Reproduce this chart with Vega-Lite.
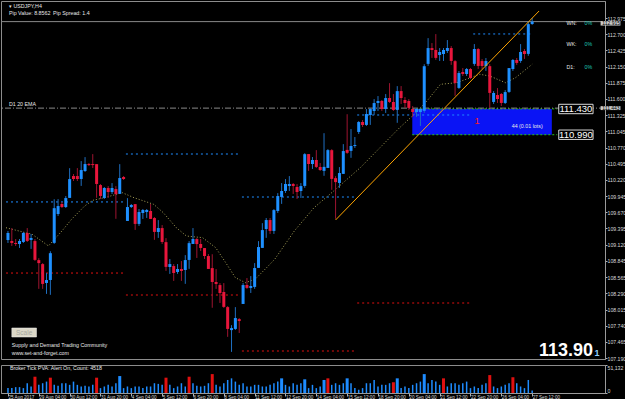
{
  "$schema": "https://vega.github.io/schema/vega-lite/v6.json",
  "background": "black",
  "padding": 0,
  "spacing": 2,
  "config": {
    "view": {"stroke": "#8c8c8c", "strokeWidth": 1},
    "font": "Liberation Sans",
    "axis": {"labelColor": "#d8d8d8", "labelFontSize": 5.2, "labelFont": "Liberation Sans", "tickColor": "#b0b0b0", "domainColor": "#9a9a9a", "grid": false, "tickSize": 2, "labelPadding": 0, "labelOverlap": false, "title": null},
    "text": {"font": "Liberation Sans"}
  },
  "datasets": {
    "candles": [
      {"i":0,"o":109.199,"h":109.351,"l":109.148,"c":109.317,"v":8925,"vt":"normal"},
      {"i":1,"o":109.182,"h":109.401,"l":109.098,"c":109.148,"v":8925,"vt":"normal"},
      {"i":2,"o":109.147,"h":109.215,"l":109.097,"c":109.130,"v":10710,"vt":"normal"},
      {"i":3,"o":109.130,"h":109.215,"l":109.063,"c":109.181,"v":10710,"vt":"normal"},
      {"i":4,"o":109.165,"h":109.334,"l":109.148,"c":109.317,"v":8925,"vt":"normal"},
      {"i":5,"o":109.317,"h":109.401,"l":109.165,"c":109.182,"v":17850,"vt":"normal"},
      {"i":6,"o":109.199,"h":109.300,"l":109.047,"c":109.233,"v":11900,"vt":"normal"},
      {"i":7,"o":109.180,"h":109.214,"l":108.843,"c":108.860,"v":29750,"vt":"climax_down"},
      {"i":8,"o":108.856,"h":108.889,"l":108.367,"c":108.805,"v":14875,"vt":"normal"},
      {"i":9,"o":108.788,"h":108.805,"l":108.367,"c":108.451,"v":17850,"vt":"normal"},
      {"i":10,"o":108.467,"h":108.635,"l":108.281,"c":108.517,"v":20825,"vt":"normal"},
      {"i":11,"o":108.518,"h":109.007,"l":108.265,"c":108.974,"v":27965,"vt":"rising"},
      {"i":12,"o":109.150,"h":109.892,"l":109.133,"c":109.740,"v":14875,"vt":"normal"},
      {"i":13,"o":109.641,"h":109.894,"l":109.608,"c":109.776,"v":13090,"vt":"normal"},
      {"i":14,"o":109.811,"h":109.845,"l":109.743,"c":109.760,"v":17850,"vt":"normal"},
      {"i":15,"o":109.760,"h":109.946,"l":109.743,"c":109.912,"v":17850,"vt":"normal"},
      {"i":16,"o":109.915,"h":110.421,"l":109.915,"c":110.235,"v":14875,"vt":"normal"},
      {"i":17,"o":110.287,"h":110.321,"l":110.203,"c":110.236,"v":20825,"vt":"normal"},
      {"i":18,"o":110.287,"h":110.422,"l":110.203,"c":110.236,"v":14875,"vt":"normal"},
      {"i":19,"o":110.237,"h":110.541,"l":110.119,"c":110.389,"v":11900,"vt":"normal"},
      {"i":20,"o":110.373,"h":110.609,"l":110.356,"c":110.491,"v":13090,"vt":"normal"},
      {"i":21,"o":110.491,"h":110.508,"l":110.458,"c":110.474,"v":11900,"vt":"normal"},
      {"i":22,"o":110.491,"h":110.660,"l":110.424,"c":110.474,"v":14875,"vt":"normal"},
      {"i":23,"o":110.489,"h":110.489,"l":109.916,"c":110.152,"v":27965,"vt":"climax_down"},
      {"i":24,"o":110.133,"h":110.150,"l":109.897,"c":109.948,"v":8925,"vt":"normal"},
      {"i":25,"o":109.914,"h":110.100,"l":109.897,"c":110.083,"v":11900,"vt":"normal"},
      {"i":26,"o":110.083,"h":110.116,"l":109.914,"c":110.015,"v":14875,"vt":"normal"},
      {"i":27,"o":110.015,"h":110.167,"l":109.981,"c":110.083,"v":11900,"vt":"normal"},
      {"i":28,"o":110.065,"h":110.115,"l":109.559,"c":109.980,"v":17850,"vt":"normal"},
      {"i":29,"o":109.983,"h":110.489,"l":109.983,"c":110.253,"v":30940,"vt":"climax_up"},
      {"i":30,"o":110.270,"h":110.287,"l":110.220,"c":110.236,"v":8925,"vt":"normal"},
      {"i":31,"o":109.523,"h":109.911,"l":109.523,"c":109.759,"v":11900,"vt":"normal"},
      {"i":32,"o":109.760,"h":109.811,"l":109.743,"c":109.794,"v":8925,"vt":"normal"},
      {"i":33,"o":109.809,"h":109.809,"l":109.370,"c":109.472,"v":11900,"vt":"normal"},
      {"i":34,"o":109.472,"h":109.725,"l":109.438,"c":109.674,"v":11900,"vt":"normal"},
      {"i":35,"o":109.658,"h":109.726,"l":109.557,"c":109.709,"v":8925,"vt":"normal"},
      {"i":36,"o":109.675,"h":109.726,"l":109.574,"c":109.709,"v":11900,"vt":"normal"},
      {"i":37,"o":109.692,"h":109.810,"l":109.557,"c":109.557,"v":11900,"vt":"normal"},
      {"i":38,"o":109.572,"h":109.589,"l":109.201,"c":109.336,"v":17850,"vt":"normal"},
      {"i":39,"o":109.335,"h":109.537,"l":109.234,"c":109.402,"v":16660,"vt":"normal"},
      {"i":40,"o":109.401,"h":109.452,"l":109.131,"c":109.165,"v":14875,"vt":"normal"},
      {"i":41,"o":109.162,"h":109.230,"l":108.673,"c":108.741,"v":27965,"vt":"climax_down"},
      {"i":42,"o":108.739,"h":108.874,"l":108.621,"c":108.789,"v":14875,"vt":"normal"},
      {"i":43,"o":108.755,"h":108.789,"l":108.502,"c":108.637,"v":8925,"vt":"normal"},
      {"i":44,"o":108.654,"h":108.789,"l":108.621,"c":108.705,"v":11900,"vt":"normal"},
      {"i":45,"o":108.705,"h":108.840,"l":108.502,"c":108.671,"v":17850,"vt":"normal"},
      {"i":46,"o":108.688,"h":108.941,"l":108.452,"c":108.857,"v":11900,"vt":"normal"},
      {"i":47,"o":108.859,"h":109.179,"l":108.707,"c":109.145,"v":29750,"vt":"rising"},
      {"i":48,"o":109.131,"h":109.401,"l":109.131,"c":109.216,"v":17850,"vt":"normal"},
      {"i":49,"o":109.214,"h":109.231,"l":108.893,"c":109.129,"v":13090,"vt":"normal"},
      {"i":50,"o":109.130,"h":109.215,"l":109.012,"c":109.063,"v":11900,"vt":"normal"},
      {"i":51,"o":109.061,"h":109.061,"l":108.876,"c":108.926,"v":13090,"vt":"normal"},
      {"i":52,"o":108.925,"h":108.959,"l":108.706,"c":108.706,"v":17850,"vt":"normal"},
      {"i":53,"o":108.720,"h":108.956,"l":108.045,"c":108.484,"v":34510,"vt":"climax_down"},
      {"i":54,"o":108.484,"h":108.703,"l":108.366,"c":108.450,"v":14875,"vt":"normal"},
      {"i":55,"o":108.431,"h":108.465,"l":108.127,"c":108.296,"v":11900,"vt":"normal"},
      {"i":56,"o":108.313,"h":108.465,"l":108.043,"c":108.060,"v":17850,"vt":"normal"},
      {"i":57,"o":108.056,"h":108.073,"l":107.550,"c":107.685,"v":23800,"vt":"normal"},
      {"i":58,"o":107.665,"h":107.749,"l":107.294,"c":107.699,"v":26775,"vt":"normal"},
      {"i":59,"o":107.685,"h":108.056,"l":107.668,"c":107.870,"v":20825,"vt":"normal"},
      {"i":60,"o":107.852,"h":107.869,"l":107.616,"c":107.819,"v":14875,"vt":"normal"},
      {"i":61,"o":108.110,"h":108.465,"l":108.110,"c":108.431,"v":17850,"vt":"normal"},
      {"i":62,"o":108.433,"h":108.551,"l":108.366,"c":108.383,"v":11900,"vt":"normal"},
      {"i":63,"o":108.382,"h":108.584,"l":108.297,"c":108.415,"v":11900,"vt":"normal"},
      {"i":64,"o":108.400,"h":108.805,"l":108.367,"c":108.721,"v":14875,"vt":"normal"},
      {"i":65,"o":108.724,"h":109.179,"l":108.724,"c":109.078,"v":14875,"vt":"normal"},
      {"i":66,"o":109.064,"h":109.485,"l":109.064,"c":109.367,"v":11900,"vt":"normal"},
      {"i":67,"o":109.386,"h":109.572,"l":109.235,"c":109.538,"v":11900,"vt":"normal"},
      {"i":68,"o":109.538,"h":109.572,"l":109.302,"c":109.353,"v":14875,"vt":"normal"},
      {"i":69,"o":109.353,"h":109.724,"l":109.302,"c":109.707,"v":17850,"vt":"normal"},
      {"i":70,"o":109.693,"h":109.996,"l":109.659,"c":109.946,"v":20825,"vt":"normal"},
      {"i":71,"o":109.931,"h":110.167,"l":109.813,"c":110.032,"v":26775,"vt":"climax_up"},
      {"i":72,"o":110.033,"h":110.235,"l":109.999,"c":110.151,"v":14875,"vt":"normal"},
      {"i":73,"o":110.117,"h":110.286,"l":110.033,"c":110.151,"v":11900,"vt":"normal"},
      {"i":74,"o":110.151,"h":110.168,"l":109.982,"c":110.117,"v":17850,"vt":"normal"},
      {"i":75,"o":110.100,"h":110.150,"l":109.897,"c":110.015,"v":14875,"vt":"normal"},
      {"i":76,"o":110.032,"h":110.167,"l":109.914,"c":110.116,"v":17850,"vt":"normal"},
      {"i":77,"o":110.119,"h":110.676,"l":110.086,"c":110.659,"v":24990,"vt":"climax_up"},
      {"i":78,"o":110.661,"h":110.661,"l":110.374,"c":110.492,"v":8925,"vt":"normal"},
      {"i":79,"o":110.492,"h":110.610,"l":110.408,"c":110.560,"v":14875,"vt":"normal"},
      {"i":80,"o":110.560,"h":110.728,"l":110.425,"c":110.442,"v":8925,"vt":"normal"},
      {"i":81,"o":110.441,"h":110.508,"l":110.373,"c":110.390,"v":11900,"vt":"normal"},
      {"i":82,"o":110.375,"h":111.016,"l":110.291,"c":110.443,"v":23800,"vt":"climax_up"},
      {"i":83,"o":110.425,"h":110.745,"l":110.425,"c":110.728,"v":26775,"vt":"rising"},
      {"i":84,"o":110.727,"h":110.744,"l":110.053,"c":110.238,"v":14875,"vt":"normal"},
      {"i":85,"o":110.251,"h":110.285,"l":109.560,"c":110.184,"v":17850,"vt":"normal"},
      {"i":86,"o":110.169,"h":110.439,"l":110.085,"c":110.338,"v":14875,"vt":"normal"},
      {"i":87,"o":110.324,"h":110.830,"l":110.324,"c":110.712,"v":17850,"vt":"normal"},
      {"i":88,"o":110.732,"h":111.339,"l":110.665,"c":110.682,"v":26775,"vt":"churn"},
      {"i":89,"o":110.715,"h":111.086,"l":110.597,"c":110.799,"v":17850,"vt":"normal"},
      {"i":90,"o":110.799,"h":110.951,"l":110.765,"c":110.816,"v":8925,"vt":"normal"},
      {"i":91,"o":111.037,"h":111.222,"l":111.003,"c":111.206,"v":5950,"vt":"normal"},
      {"i":92,"o":111.207,"h":111.240,"l":111.122,"c":111.156,"v":8925,"vt":"normal"},
      {"i":93,"o":111.157,"h":111.427,"l":111.140,"c":111.342,"v":17850,"vt":"normal"},
      {"i":94,"o":111.326,"h":111.444,"l":111.157,"c":111.427,"v":17850,"vt":"normal"},
      {"i":95,"o":111.394,"h":111.596,"l":111.327,"c":111.529,"v":23800,"vt":"normal"},
      {"i":96,"o":111.530,"h":111.648,"l":111.395,"c":111.564,"v":11900,"vt":"normal"},
      {"i":97,"o":111.564,"h":111.581,"l":111.395,"c":111.429,"v":14875,"vt":"normal"},
      {"i":98,"o":111.429,"h":111.682,"l":111.361,"c":111.614,"v":14875,"vt":"normal"},
      {"i":99,"o":111.615,"h":111.868,"l":111.531,"c":111.548,"v":17850,"vt":"normal"},
      {"i":100,"o":111.547,"h":111.682,"l":111.395,"c":111.412,"v":19635,"vt":"climax_down"},
      {"i":101,"o":111.412,"h":111.817,"l":111.193,"c":111.732,"v":26775,"vt":"climax_up"},
      {"i":102,"o":111.733,"h":111.818,"l":111.514,"c":111.615,"v":8925,"vt":"normal"},
      {"i":103,"o":111.581,"h":111.631,"l":111.446,"c":111.530,"v":11900,"vt":"normal"},
      {"i":104,"o":111.564,"h":111.597,"l":111.412,"c":111.446,"v":8925,"vt":"normal"},
      {"i":105,"o":111.428,"h":111.478,"l":111.293,"c":111.377,"v":14875,"vt":"normal"},
      {"i":106,"o":111.377,"h":111.445,"l":111.293,"c":111.428,"v":17850,"vt":"normal"},
      {"i":107,"o":111.376,"h":111.444,"l":111.140,"c":111.427,"v":20825,"vt":"normal"},
      {"i":108,"o":111.397,"h":112.190,"l":111.363,"c":112.156,"v":34510,"vt":"climax_up"},
      {"i":109,"o":112.196,"h":112.634,"l":112.162,"c":112.465,"v":17850,"vt":"normal"},
      {"i":110,"o":112.465,"h":112.550,"l":112.297,"c":112.432,"v":23800,"vt":"normal"},
      {"i":111,"o":112.433,"h":112.703,"l":112.264,"c":112.298,"v":20825,"vt":"normal"},
      {"i":112,"o":112.347,"h":112.465,"l":112.246,"c":112.398,"v":14875,"vt":"normal"},
      {"i":113,"o":112.364,"h":112.465,"l":112.246,"c":112.432,"v":26775,"vt":"rising"},
      {"i":114,"o":112.416,"h":112.601,"l":112.382,"c":112.466,"v":11900,"vt":"normal"},
      {"i":115,"o":112.465,"h":112.499,"l":112.179,"c":112.246,"v":17850,"vt":"normal"},
      {"i":116,"o":112.242,"h":112.259,"l":111.652,"c":111.871,"v":17850,"vt":"normal"},
      {"i":117,"o":111.787,"h":112.074,"l":111.770,"c":112.040,"v":14875,"vt":"normal"},
      {"i":118,"o":112.058,"h":112.125,"l":111.990,"c":112.024,"v":17850,"vt":"normal"},
      {"i":119,"o":112.024,"h":112.125,"l":111.990,"c":112.108,"v":20825,"vt":"normal"},
      {"i":120,"o":112.108,"h":112.125,"l":111.940,"c":111.957,"v":8925,"vt":"normal"},
      {"i":121,"o":112.196,"h":112.533,"l":112.162,"c":112.449,"v":11900,"vt":"normal"},
      {"i":122,"o":112.448,"h":112.464,"l":112.110,"c":112.161,"v":8925,"vt":"normal"},
      {"i":123,"o":112.244,"h":112.278,"l":112.109,"c":112.160,"v":14875,"vt":"normal"},
      {"i":124,"o":112.160,"h":112.295,"l":112.076,"c":112.244,"v":17850,"vt":"normal"},
      {"i":125,"o":112.157,"h":112.191,"l":111.449,"c":111.702,"v":32725,"vt":"climax_down"},
      {"i":126,"o":111.548,"h":111.733,"l":111.514,"c":111.700,"v":11900,"vt":"normal"},
      {"i":127,"o":111.666,"h":111.784,"l":111.531,"c":111.598,"v":8925,"vt":"normal"},
      {"i":128,"o":111.683,"h":111.700,"l":111.480,"c":111.531,"v":11900,"vt":"normal"},
      {"i":129,"o":111.531,"h":111.750,"l":111.514,"c":111.716,"v":14875,"vt":"normal"},
      {"i":130,"o":111.719,"h":112.124,"l":111.703,"c":112.124,"v":17850,"vt":"normal"},
      {"i":131,"o":112.109,"h":112.278,"l":112.076,"c":112.261,"v":28560,"vt":"rising"},
      {"i":132,"o":112.262,"h":112.296,"l":112.178,"c":112.212,"v":17850,"vt":"normal"},
      {"i":133,"o":112.246,"h":112.533,"l":112.213,"c":112.398,"v":11900,"vt":"normal"},
      {"i":134,"o":112.415,"h":112.449,"l":112.280,"c":112.364,"v":8925,"vt":"normal"},
      {"i":135,"o":112.366,"h":112.923,"l":112.333,"c":112.872,"v":23800,"vt":"normal"},
      {"i":136,"o":112.875,"h":112.975,"l":112.860,"c":112.915,"v":4760,"vt":"normal"}
    ],
    "ma": [
      {"i":-0.51,"p":109.407},{"i":6.3,"p":109.295},{"i":10.5,"p":109.097},{"i":14.0,"p":109.352},
      {"i":16.5,"p":109.551},{"i":19.9,"p":109.777},{"i":22.0,"p":109.874},{"i":25.0,"p":109.918},
      {"i":29.7,"p":110.003},{"i":32.7,"p":109.918},{"i":37.8,"p":109.806},{"i":40.3,"p":109.663},
      {"i":43.7,"p":109.407},{"i":46.3,"p":109.266},{"i":50.5,"p":109.238},{"i":53.9,"p":109.067},
      {"i":56.5,"p":108.812},{"i":59.0,"p":108.557},{"i":61.6,"p":108.472},{"i":64.1,"p":108.529},
      {"i":67.1,"p":108.727},{"i":69.2,"p":108.870},{"i":74.3,"p":109.352},{"i":79.4,"p":109.748},
      {"i":84.5,"p":110.032},{"i":91.4,"p":110.429},{"i":96.5,"p":110.769},{"i":101.6,"p":111.109},
      {"i":105.4,"p":111.337},{"i":108.7,"p":111.564},{"i":112.2,"p":111.848},{"i":116.4,"p":111.875},
      {"i":122.4,"p":112.019},{"i":125.0,"p":111.989},{"i":129.1,"p":111.875},{"i":131.7,"p":111.961},
      {"i":136.0,"p":112.189}
    ],
    "levels": [
      {"i1":-0.51,"i2":30.1,"p":109.846,"kind":"high"},
      {"i1":-0.51,"i2":30.1,"p":108.636,"kind":"low"},
      {"i1":30.6,"i2":60.2,"p":110.662,"kind":"high"},
      {"i1":30.6,"i2":60.2,"p":108.262,"kind":"low"},
      {"i1":60.7,"i2":90.1,"p":109.930,"kind":"high"},
      {"i1":60.7,"i2":90.1,"p":107.309,"kind":"low"},
      {"i1":90.6,"i2":119.9,"p":111.326,"kind":"high"},
      {"i1":90.6,"i2":119.9,"p":108.126,"kind":"low"},
      {"i1":120.7,"i2":136.0,"p":112.705,"kind":"high"}
    ]
  },
  "vconcat": [
    {
      "width": 604,
      "height": 358,
      "layer": [
        {
          "data": {"values": [{"i1":104.9,"i2":141.1,"p1":111.43,"p2":110.99}]},
          "mark": {"type": "rect", "color": "#0a14f5"},
          "encoding": {
            "x": {"field": "i1", "type": "quantitative", "scale": {"domain": [-0.51, 153.6], "nice": false, "zero": false}, "axis": null},
            "x2": {"field": "i2"},
            "y": {"field": "p1", "type": "quantitative", "scale": {"domain": [107.173, 113.266], "nice": false, "zero": false}, "axis": {"orient": "right", "tickCount": 100, "labelOverlap": false, "labelBound": false, "values": [107.19,107.465,107.74,108.015,108.29,108.565,108.845,109.12,109.395,109.67,109.945,110.22,110.495,110.77,111.045,111.325,111.6,111.875,112.15,112.425,112.7,112.975], "format": ".3f"}},
            "y2": {"field": "p2"}
          }
        },
        {
          "data": {"values": [{"i1":104.9,"i2":142.5,"p":111.43},{"i1":104.9,"i2":142.5,"p":110.99}]},
          "mark": {"type": "rule", "color": "#22c422", "strokeDash": [2, 2], "strokeWidth": 1},
          "encoding": {"x": {"field": "i1", "type": "quantitative"}, "x2": {"field": "i2"}, "y": {"field": "p", "type": "quantitative"}}
        },
        {
          "data": {"values": [{"p": 111.443}]},
          "mark": {"type": "rule", "color": "#8a8a8a", "strokeDash": [6, 2, 1, 2], "strokeWidth": 1},
          "encoding": {"y": {"field": "p", "type": "quantitative"}}
        },
        {
          "data": {"values": [{"p": 112.915}]},
          "mark": {"type": "rule", "color": "#8a8a8a", "strokeWidth": 1},
          "encoding": {"y": {"field": "p", "type": "quantitative"}}
        },
        {
          "data": {"name": "levels"},
          "mark": {"type": "rule", "strokeDash": [2, 3], "strokeWidth": 1},
          "encoding": {
            "x": {"field": "i1", "type": "quantitative"}, "x2": {"field": "i2"},
            "y": {"field": "p", "type": "quantitative"},
            "color": {"field": "kind", "type": "nominal", "scale": {"domain": ["high", "low"], "range": ["#1e8cff", "#e01010"]}, "legend": null}
          }
        },
        {
          "data": {"name": "ma"},
          "mark": {"type": "line", "color": "#a8a258", "strokeDash": [1, 2], "strokeWidth": 1},
          "encoding": {"x": {"field": "i", "type": "quantitative"}, "y": {"field": "p", "type": "quantitative"}}
        },
        {
          "data": {"name": "candles"},
          "mark": {"type": "rule", "strokeWidth": 1},
          "encoding": {
            "x": {"field": "i", "type": "quantitative"},
            "y": {"field": "l", "type": "quantitative"}, "y2": {"field": "h"},
            "color": {"condition": {"test": "datum.c >= datum.o", "value": "#1f6fc0"}, "value": "#9e1430"}
          }
        },
        {
          "data": {"name": "candles"},
          "mark": {"type": "bar", "size": 3},
          "encoding": {
            "x": {"field": "i", "type": "quantitative"},
            "y": {"field": "o", "type": "quantitative"}, "y2": {"field": "c"},
            "color": {"condition": {"test": "datum.c >= datum.o", "value": "#1e90ff"}, "value": "#e8163c"}
          }
        },
        {
          "data": {"values": [{"i1":85.0,"p1":109.539,"i2":137.8,"p2":113.096}]},
          "mark": {"type": "rule", "color": "#ffa500", "strokeWidth": 1},
          "encoding": {"x": {"field": "i1", "type": "quantitative"}, "x2": {"field": "i2"}, "y": {"field": "p1", "type": "quantitative"}, "y2": {"field": "p2"}}
        },
        {
          "data": {"values": [{"i1":142.9,"i2":151.8,"p1":111.508,"p2":111.348},{"i1":142.9,"i2":151.8,"p1":111.07,"p2":110.91}]},
          "mark": {"type": "rect", "fill": "black", "stroke": "#d8d8d8", "strokeWidth": 1},
          "encoding": {"x": {"field": "i1", "type": "quantitative"}, "x2": {"field": "i2"}, "y": {"field": "p1", "type": "quantitative"}, "y2": {"field": "p2"}}
        },
        {
          "data": {"values": [{"i":147.35,"p":111.428,"t":"111.430"},{"i":147.35,"p":110.99,"t":"110.990"}]},
          "mark": {"type": "text", "color": "white", "fontSize": 9.5, "align": "center", "baseline": "middle"},
          "encoding": {"x": {"field": "i", "type": "quantitative"}, "y": {"field": "p", "type": "quantitative"}, "text": {"field": "t"}}
        },
        {
          "data": {"values": [{"i":153.75,"i2":158.9,"p1":112.925,"p2":112.848},{"i":153.75,"i2":158.9,"p1":111.477,"p2":111.41}]},
          "mark": {"type": "rect", "fill": "#c8c8c8"},
          "encoding": {"x": {"field": "i", "type": "quantitative"}, "x2": {"field": "i2"}, "y": {"field": "p1", "type": "quantitative"}, "y2": {"field": "p2"}}
        },
        {
          "data": {"values": [{"i":154.2,"p":112.884,"t":"112.915"},{"i":154.2,"p":111.443,"t":"111.443"}]},
          "mark": {"type": "text", "color": "black", "fontSize": 5.0, "align": "left", "baseline": "middle"},
          "encoding": {"x": {"field": "i", "type": "quantitative"}, "y": {"field": "p", "type": "quantitative"}, "text": {"field": "t"}}
        },
        {
          "data": {"values": [{"i":121.7,"p":111.224,"t":"1"}]},
          "mark": {"type": "text", "color": "#ff2020", "fontSize": 9, "align": "center", "baseline": "middle"},
          "encoding": {"x": {"field": "i", "type": "quantitative"}, "y": {"field": "p", "type": "quantitative"}, "text": {"field": "t"}}
        },
        {
          "data": {"values": [
            {"i":0.25,"p":113.181,"t":"▾ USDJPY,H4"},
            {"i":0.25,"p":113.062,"t":"Pip Value: 8.8562"},
            {"i":11.7,"p":113.062,"t":"Pip Spread: 1.4"},
            {"i":0.25,"p":111.513,"t":"D1 20 EMA"},
            {"i":130.7,"p":111.139,"t":"44 (0.01 lots)"},
            {"i":1.0,"p":107.411,"t":"Supply and Demand Trading Community"},
            {"i":1.0,"p":107.275,"t":"www.set-and-forget.com"},
            {"i":144.9,"p":112.892,"t":"WN:"},
            {"i":144.9,"p":112.534,"t":"WK:"},
            {"i":144.9,"p":112.143,"t":"D1:"}
          ]},
          "mark": {"type": "text", "color": "#e8e8e8", "fontSize": 5.3, "align": "left", "baseline": "middle"},
          "encoding": {"x": {"field": "i", "type": "quantitative"}, "y": {"field": "p", "type": "quantitative"}, "text": {"field": "t"}}
        },
        {
          "data": {"values": [{"i":149.6,"p":112.892,"t":"0%"},{"i":149.6,"p":112.534,"t":"0%"},{"i":149.6,"p":112.143,"t":"0%"}]},
          "mark": {"type": "text", "color": "#1fc8b4", "fontSize": 5.3, "align": "left", "baseline": "middle"},
          "encoding": {"x": {"field": "i", "type": "quantitative"}, "y": {"field": "p", "type": "quantitative"}, "text": {"field": "t"}}
        },
        {
          "data": {"values": [{"i1":1.0,"i2":7.4,"p1":107.701,"p2":107.547}]},
          "mark": {"type": "rect", "fill": "#dcd8c8", "stroke": "#f0f0f0", "strokeWidth": 0.5},
          "encoding": {"x": {"field": "i1", "type": "quantitative"}, "x2": {"field": "i2"}, "y": {"field": "p1", "type": "quantitative"}, "y2": {"field": "p2"}}
        },
        {
          "data": {"values": [{"i":4.2,"p":107.624,"t":"Scale"}]},
          "mark": {"type": "text", "color": "#a8a8a0", "fontSize": 6.5, "align": "center", "baseline": "middle"},
          "encoding": {"x": {"field": "i", "type": "quantitative"}, "y": {"field": "p", "type": "quantitative"}, "text": {"field": "t"}}
        },
        {
          "data": {"values": [{"i":151.8,"p":107.224,"t":"113.90"}]},
          "mark": {"type": "text", "color": "white", "fontSize": 18, "fontWeight": "bold", "font": "Liberation Sans", "align": "right", "baseline": "alphabetic"},
          "encoding": {"x": {"field": "i", "type": "quantitative"}, "y": {"field": "p", "type": "quantitative"}, "text": {"field": "t"}}
        },
        {
          "data": {"values": [{"i":152.2,"p":107.224,"t":"1"}]},
          "mark": {"type": "text", "color": "#8fd0ff", "fontSize": 9, "fontWeight": "bold", "font": "Liberation Sans", "align": "left", "baseline": "alphabetic"},
          "encoding": {"x": {"field": "i", "type": "quantitative"}, "y": {"field": "p", "type": "quantitative"}, "text": {"field": "t"}}
        }
      ]
    },
    {
      "width": 604,
      "height": 28,
      "layer": [
        {
          "data": {"name": "candles"},
          "mark": {"type": "bar"},
          "encoding": {
            "x": {"field": "i", "type": "quantitative", "scale": {"domain": [-0.51, 153.6], "nice": false, "zero": false},
                  "axis": {"values": [0,8,16,24,32,40,48,56,64,72,80,88,96,104,112,120,128,136], "tickCount": 100, "labelOverlap": false, "labelBound": false, "labelAlign": "left", "tickSize": 3, "labelPadding": -2, "labelFontSize": 4.6, "labelExpr": "['25 Aug 2017','29 Aug 04:00','30 Aug 12:00','31 Aug 20:00','4 Sep 04:00','5 Sep 12:00','6 Sep 20:00','8 Sep 04:00','11 Sep 12:00','12 Sep 20:00','14 Sep 04:00','15 Sep 12:00','18 Sep 20:00','20 Sep 04:00','21 Sep 12:00','22 Sep 20:00','26 Sep 04:00','27 Sep 12:00'][round(datum.value/8)]"}},
            "y": {"field": "v", "type": "quantitative", "scale": {"domain": [0, 51132], "nice": false}, "axis": {"orient": "right", "values": [0, 51132], "tickCount": 10, "labelOverlap": false, "labelFlush": true}},
            "size": {"condition": {"test": "datum.vt != 'normal'", "value": 3}, "value": 1.5},
            "color": {"field": "vt", "type": "nominal", "scale": {"domain": ["normal", "climax_down", "climax_up", "rising", "churn"], "range": ["#50508a", "#ff1010", "#22dd44", "#1e9bff", "#cc33ff"]}, "legend": null}
          }
        },
        {
          "data": {"values": [{"i":0.5,"v":45000,"t":"Broker Tick PVA:   Alert On,   Count: 4518"}]},
          "mark": {"type": "text", "color": "#e8e8e8", "fontSize": 5.3, "align": "left", "baseline": "middle"},
          "encoding": {"x": {"field": "i", "type": "quantitative"}, "y": {"field": "v", "type": "quantitative"}, "text": {"field": "t"}}
        }
      ]
    }
  ]
}
